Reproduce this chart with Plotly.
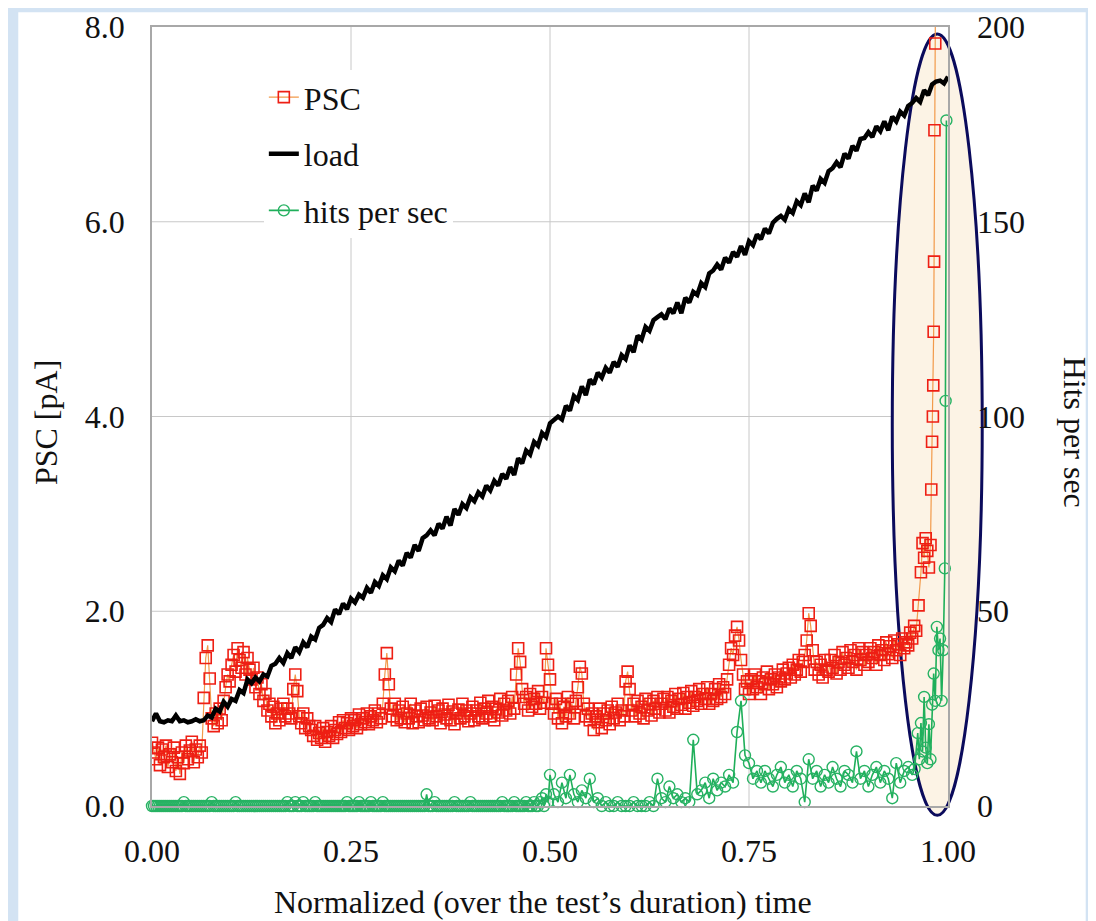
import plotly.graph_objects as go

# --- PSC [pA] vs normalized time (left axis) ---
psc_t = [
    0.0000, 0.0025, 0.0050, 0.0075, 0.0100, 0.0125, 0.0150, 0.0175, 0.0200, 0.0225,
    0.0250, 0.0275, 0.0300, 0.0325, 0.0350, 0.0375, 0.0400, 0.0425, 0.0450, 0.0475,
    0.0500, 0.0525, 0.0550, 0.0575, 0.0600, 0.0625, 0.0650, 0.0675, 0.0700, 0.0725,
    0.0750, 0.0775, 0.0800, 0.0825, 0.0850, 0.0875, 0.0900, 0.0925, 0.0950, 0.0975,
    0.1000, 0.1025, 0.1050, 0.1075, 0.1100, 0.1125, 0.1150, 0.1175, 0.1200, 0.1225,
    0.1250, 0.1275, 0.1300, 0.1325, 0.1350, 0.1375, 0.1400, 0.1425, 0.1450, 0.1475,
    0.1500, 0.1525, 0.1550, 0.1575, 0.1600, 0.1625, 0.1650, 0.1675, 0.1700, 0.1725,
    0.1750, 0.1775, 0.1800, 0.1825, 0.1850, 0.1875, 0.1900, 0.1925, 0.1950, 0.1975,
    0.2000, 0.2025, 0.2050, 0.2075, 0.2100, 0.2125, 0.2150, 0.2175, 0.2200, 0.2225,
    0.2250, 0.2275, 0.2300, 0.2325, 0.2350, 0.2375, 0.2400, 0.2425, 0.2450, 0.2475,
    0.2500, 0.2525, 0.2550, 0.2575, 0.2600, 0.2625, 0.2650, 0.2675, 0.2700, 0.2725,
    0.2750, 0.2775, 0.2800, 0.2825, 0.2850, 0.2875, 0.2900, 0.2925, 0.2950, 0.2975,
    0.3000, 0.3025, 0.3050, 0.3075, 0.3100, 0.3125, 0.3150, 0.3175, 0.3200, 0.3225,
    0.3250, 0.3275, 0.3300, 0.3325, 0.3350, 0.3375, 0.3400, 0.3425, 0.3450, 0.3475,
    0.3500, 0.3525, 0.3550, 0.3575, 0.3600, 0.3625, 0.3650, 0.3675, 0.3700, 0.3725,
    0.3750, 0.3775, 0.3800, 0.3825, 0.3850, 0.3875, 0.3900, 0.3925, 0.3950, 0.3975,
    0.4000, 0.4025, 0.4050, 0.4075, 0.4100, 0.4125, 0.4150, 0.4175, 0.4200, 0.4225,
    0.4250, 0.4275, 0.4300, 0.4325, 0.4350, 0.4375, 0.4400, 0.4425, 0.4450, 0.4475,
    0.4500, 0.4525, 0.4550, 0.4575, 0.4600, 0.4625, 0.4650, 0.4675, 0.4700, 0.4725,
    0.4750, 0.4775, 0.4800, 0.4825, 0.4850, 0.4875, 0.4900, 0.4925, 0.4950, 0.4975,
    0.5000, 0.5025, 0.5050, 0.5075, 0.5100, 0.5125, 0.5150, 0.5175, 0.5200, 0.5225,
    0.5250, 0.5275, 0.5300, 0.5325, 0.5350, 0.5375, 0.5400, 0.5425, 0.5450, 0.5475,
    0.5500, 0.5525, 0.5550, 0.5575, 0.5600, 0.5625, 0.5650, 0.5675, 0.5700, 0.5725,
    0.5750, 0.5775, 0.5800, 0.5825, 0.5850, 0.5875, 0.5900, 0.5925, 0.5950, 0.5975,
    0.6000, 0.6025, 0.6050, 0.6075, 0.6100, 0.6125, 0.6150, 0.6175, 0.6200, 0.6225,
    0.6250, 0.6275, 0.6300, 0.6325, 0.6350, 0.6375, 0.6400, 0.6425, 0.6450, 0.6475,
    0.6500, 0.6525, 0.6550, 0.6575, 0.6600, 0.6625, 0.6650, 0.6675, 0.6700, 0.6725,
    0.6750, 0.6775, 0.6800, 0.6825, 0.6850, 0.6875, 0.6900, 0.6925, 0.6950, 0.6975,
    0.7000, 0.7025, 0.7050, 0.7075, 0.7100, 0.7125, 0.7150, 0.7175, 0.7200, 0.7225,
    0.7250, 0.7275, 0.7300, 0.7325, 0.7350, 0.7375, 0.7400, 0.7425, 0.7450, 0.7475,
    0.7500, 0.7525, 0.7550, 0.7575, 0.7600, 0.7625, 0.7650, 0.7675, 0.7700, 0.7725,
    0.7750, 0.7775, 0.7800, 0.7825, 0.7850, 0.7875, 0.7900, 0.7925, 0.7950, 0.7975,
    0.8000, 0.8025, 0.8050, 0.8075, 0.8100, 0.8125, 0.8150, 0.8175, 0.8200, 0.8225,
    0.8250, 0.8275, 0.8300, 0.8325, 0.8350, 0.8375, 0.8400, 0.8425, 0.8450, 0.8475,
    0.8500, 0.8525, 0.8550, 0.8575, 0.8600, 0.8625, 0.8650, 0.8675, 0.8700, 0.8725,
    0.8750, 0.8775, 0.8800, 0.8825, 0.8850, 0.8875, 0.8900, 0.8925, 0.8950, 0.8975,
    0.9000, 0.9025, 0.9050, 0.9075, 0.9100, 0.9125, 0.9150, 0.9175, 0.9200, 0.9225,
    0.9250, 0.9275, 0.9300, 0.9325, 0.9350, 0.9375, 0.9400, 0.9425, 0.9450, 0.9475,
    0.9500, 0.9525, 0.9550, 0.9575, 0.9600, 0.9630, 0.9660, 0.9680, 0.9700, 0.9720,
    0.9740, 0.9760, 0.9780, 0.9790, 0.9800, 0.9810, 0.9815, 0.9820, 0.9825, 0.9830,
    0.9840, 0.9850,
]
psc_pa = [
    0.65, 0.55, 0.48, 0.60, 0.42, 0.58, 0.50, 0.62, 0.40, 0.53,
    0.45, 0.60, 0.36, 0.50, 0.33, 0.55, 0.44, 0.62, 0.48, 0.57,
    0.66, 0.45, 0.58, 0.50, 0.62, 0.55, 1.11, 1.52, 1.65, 1.31,
    0.90, 0.82, 0.95, 0.85, 1.00, 0.88, 1.08, 1.22, 1.35, 1.28,
    1.45, 1.55, 1.38, 1.62, 1.50, 1.42, 1.58, 1.35, 1.52, 1.40,
    1.30, 1.42, 1.22, 1.32, 1.15, 1.25, 1.08, 1.15, 0.98, 1.05,
    0.92, 1.02, 0.85, 0.95, 0.88, 1.00, 1.05, 0.92, 1.00, 0.95,
    0.90, 1.20, 1.35, 1.18, 0.92, 0.85, 0.95, 0.80, 0.90, 0.82,
    0.78, 0.72, 0.82, 0.68, 0.75, 0.70, 0.80, 0.66, 0.76, 0.72,
    0.82, 0.70, 0.78, 0.74, 0.86, 0.76, 0.88, 0.80, 0.85, 0.78,
    0.90, 0.82, 0.88, 0.80, 0.94, 0.84, 0.90, 0.86, 0.95, 0.84,
    0.92, 0.88, 0.98, 0.86, 0.95, 0.90, 1.05, 1.35, 1.57, 1.25,
    1.00, 0.92, 1.05, 0.88, 0.98, 0.90, 1.02, 0.86, 0.95, 0.90,
    1.05, 0.85, 0.98, 0.92, 0.86, 1.00, 0.93, 0.88, 1.02, 0.90,
    0.96, 0.88, 1.03, 0.92, 0.98, 0.85, 1.00, 0.94, 0.90, 1.04,
    0.88, 0.97, 0.84, 0.95, 0.99, 0.90, 1.05, 0.92, 0.98, 0.87,
    0.95, 1.02, 0.88, 0.98, 0.92, 1.06, 0.90, 1.00, 0.95, 1.08,
    0.92, 1.02, 0.88, 1.00, 0.96, 1.10, 0.93, 1.05, 0.98, 1.08,
    0.95, 1.12, 1.00, 1.35, 1.62, 1.48, 1.20, 1.05, 1.12, 0.98,
    1.15, 1.02, 1.10, 1.05, 1.18, 1.00, 1.12, 1.06, 1.62, 1.45,
    1.30, 1.05, 0.95, 1.10, 0.90, 1.05, 0.85, 1.02, 0.92, 1.12,
    0.95, 1.05, 0.90, 1.08, 1.22, 1.43, 1.36, 1.05, 0.92, 1.00,
    0.88, 0.95, 0.78, 0.92, 0.86, 1.00, 0.80, 0.95, 0.88, 0.98,
    0.84, 1.02, 0.90, 0.96, 1.05, 0.88, 0.98, 0.92, 1.28, 1.38,
    1.20, 0.98, 1.05, 0.92, 1.08, 0.95, 1.02, 0.90, 1.10, 0.98,
    1.05, 0.93, 1.08, 1.00, 1.12, 0.96, 1.05, 1.10, 0.98, 1.12,
    0.96, 1.08, 1.02, 1.15, 1.00, 1.10, 1.04, 1.16, 1.00, 1.12,
    1.06, 1.18, 1.03, 1.12, 1.08, 1.20, 1.05, 1.15, 1.10, 1.22,
    1.05, 1.15, 1.08, 1.20, 1.10, 1.25, 1.12, 1.22, 1.15, 1.30,
    1.45, 1.62, 1.55, 1.75, 1.84, 1.70, 1.50, 1.35, 1.20, 1.28,
    1.15, 1.30, 1.20, 1.35, 1.22, 1.28, 1.15, 1.32, 1.25, 1.38,
    1.20, 1.30, 1.25, 1.35, 1.22, 1.32, 1.28, 1.40, 1.30, 1.36,
    1.42, 1.32, 1.45, 1.35, 1.40, 1.50, 1.38, 1.48, 1.55, 1.70,
    1.98, 1.85, 1.60, 1.40, 1.48, 1.35, 1.45, 1.32, 1.50, 1.40,
    1.38, 1.50, 1.42, 1.55, 1.36, 1.48, 1.40, 1.58, 1.45, 1.52,
    1.42, 1.60, 1.48, 1.55, 1.40, 1.62, 1.50, 1.58, 1.45, 1.55,
    1.48, 1.62, 1.52, 1.58, 1.45, 1.65, 1.55, 1.60, 1.50, 1.68,
    1.56, 1.64, 1.52, 1.70, 1.60, 1.66, 1.55, 1.72, 1.62, 1.68,
    1.65, 1.78, 1.72, 1.85, 1.80, 2.06, 2.40, 2.70, 2.55, 2.75,
    2.62, 2.45, 2.68, 3.25, 3.74, 4.00, 4.32, 4.87, 5.59, 6.94,
    7.83, 9.50,
]

# --- load (left axis) ---
load_t = [
    0.000, 0.005, 0.010, 0.015, 0.020, 0.025, 0.030, 0.035, 0.040, 0.045,
    0.050, 0.055, 0.060, 0.065, 0.070, 0.075, 0.080, 0.085, 0.090, 0.095,
    0.100, 0.105, 0.110, 0.115, 0.120, 0.125, 0.130, 0.135, 0.140, 0.145,
    0.150, 0.155, 0.160, 0.165, 0.170, 0.175, 0.180, 0.185, 0.190, 0.195,
    0.200, 0.205, 0.210, 0.215, 0.220, 0.225, 0.230, 0.235, 0.240, 0.245,
    0.250, 0.255, 0.260, 0.265, 0.270, 0.275, 0.280, 0.285, 0.290, 0.295,
    0.300, 0.305, 0.310, 0.315, 0.320, 0.325, 0.330, 0.335, 0.340, 0.345,
    0.350, 0.355, 0.360, 0.365, 0.370, 0.375, 0.380, 0.385, 0.390, 0.395,
    0.400, 0.405, 0.410, 0.415, 0.420, 0.425, 0.430, 0.435, 0.440, 0.445,
    0.450, 0.455, 0.460, 0.465, 0.470, 0.475, 0.480, 0.485, 0.490, 0.495,
    0.500, 0.505, 0.510, 0.515, 0.520, 0.525, 0.530, 0.535, 0.540, 0.545,
    0.550, 0.555, 0.560, 0.565, 0.570, 0.575, 0.580, 0.585, 0.590, 0.595,
    0.600, 0.605, 0.610, 0.615, 0.620, 0.625, 0.630, 0.635, 0.640, 0.645,
    0.650, 0.655, 0.660, 0.665, 0.670, 0.675, 0.680, 0.685, 0.690, 0.695,
    0.700, 0.705, 0.710, 0.715, 0.720, 0.725, 0.730, 0.735, 0.740, 0.745,
    0.750, 0.755, 0.760, 0.765, 0.770, 0.775, 0.780, 0.785, 0.790, 0.795,
    0.800, 0.805, 0.810, 0.815, 0.820, 0.825, 0.830, 0.835, 0.840, 0.845,
    0.850, 0.855, 0.860, 0.865, 0.870, 0.875, 0.880, 0.885, 0.890, 0.895,
    0.900, 0.905, 0.910, 0.915, 0.920, 0.925, 0.930, 0.935, 0.940, 0.945,
    0.950, 0.955, 0.960, 0.965, 0.970, 0.975, 0.980, 0.985, 0.990, 0.995,
    1.000,
]
load_v = [
    0.87, 0.95, 0.87, 0.86, 0.88, 0.87, 0.93, 0.87, 0.88, 0.86,
    0.87, 0.89, 0.87, 0.88, 0.93, 0.91, 1.00, 0.97, 1.07, 1.02,
    1.10, 1.08, 1.19, 1.16, 1.30, 1.26, 1.32, 1.28, 1.35, 1.33,
    1.44, 1.46, 1.52, 1.47, 1.57, 1.52, 1.63, 1.58, 1.68, 1.63,
    1.74, 1.71, 1.83, 1.86, 1.93, 1.89, 2.02, 1.97, 2.08, 2.02,
    2.13, 2.09, 2.17, 2.14, 2.24, 2.19, 2.30, 2.26, 2.37, 2.33,
    2.45, 2.41, 2.52, 2.47, 2.60, 2.55, 2.68, 2.62, 2.75, 2.78,
    2.83, 2.78, 2.90, 2.85, 2.97, 2.88, 3.05, 2.99, 3.10, 3.06,
    3.17, 3.13, 3.22, 3.18, 3.29, 3.24, 3.34, 3.29, 3.41, 3.36,
    3.48, 3.40, 3.57, 3.52, 3.65, 3.61, 3.74, 3.70, 3.83, 3.79,
    3.93, 3.96, 4.00, 3.97, 4.11, 4.06, 4.21, 4.17, 4.31, 4.22,
    4.38, 4.33, 4.45, 4.40, 4.50, 4.45, 4.56, 4.51, 4.63, 4.59,
    4.73, 4.66, 4.83, 4.79, 4.92, 4.88, 4.99, 5.02, 5.05, 5.00,
    5.11, 5.06, 5.17, 5.06, 5.22, 5.17, 5.28, 5.25, 5.37, 5.33,
    5.47, 5.50, 5.56, 5.51, 5.63, 5.58, 5.69, 5.64, 5.75, 5.66,
    5.80, 5.76, 5.87, 5.82, 5.93, 5.88, 5.99, 6.03, 6.06, 6.02,
    6.13, 6.09, 6.21, 6.17, 6.29, 6.20, 6.37, 6.32, 6.44, 6.40,
    6.52, 6.55, 6.61, 6.56, 6.70, 6.65, 6.78, 6.73, 6.85, 6.86,
    6.92, 6.87, 6.98, 6.93, 7.03, 6.94, 7.08, 7.03, 7.13, 7.09,
    7.19, 7.22, 7.27, 7.23, 7.35, 7.30, 7.41, 7.44, 7.45, 7.42,
    7.49,
]

# --- hits per sec (right axis) ---
hits_t = [
    0.0000, 0.0025, 0.0050, 0.0075, 0.0100, 0.0125, 0.0150, 0.0175, 0.0200, 0.0225,
    0.0250, 0.0275, 0.0300, 0.0325, 0.0350, 0.0375, 0.0400, 0.0425, 0.0450, 0.0475,
    0.0500, 0.0525, 0.0550, 0.0575, 0.0600, 0.0625, 0.0650, 0.0675, 0.0700, 0.0725,
    0.0750, 0.0775, 0.0800, 0.0825, 0.0850, 0.0875, 0.0900, 0.0925, 0.0950, 0.0975,
    0.1000, 0.1025, 0.1050, 0.1075, 0.1100, 0.1125, 0.1150, 0.1175, 0.1200, 0.1225,
    0.1250, 0.1275, 0.1300, 0.1325, 0.1350, 0.1375, 0.1400, 0.1425, 0.1450, 0.1475,
    0.1500, 0.1525, 0.1550, 0.1575, 0.1600, 0.1625, 0.1650, 0.1675, 0.1700, 0.1725,
    0.1750, 0.1775, 0.1800, 0.1825, 0.1850, 0.1875, 0.1900, 0.1925, 0.1950, 0.1975,
    0.2000, 0.2025, 0.2050, 0.2075, 0.2100, 0.2125, 0.2150, 0.2175, 0.2200, 0.2225,
    0.2250, 0.2275, 0.2300, 0.2325, 0.2350, 0.2375, 0.2400, 0.2425, 0.2450, 0.2475,
    0.2500, 0.2525, 0.2550, 0.2575, 0.2600, 0.2625, 0.2650, 0.2675, 0.2700, 0.2725,
    0.2750, 0.2775, 0.2800, 0.2825, 0.2850, 0.2875, 0.2900, 0.2925, 0.2950, 0.2975,
    0.3000, 0.3025, 0.3050, 0.3075, 0.3100, 0.3125, 0.3150, 0.3175, 0.3200, 0.3225,
    0.3250, 0.3275, 0.3300, 0.3325, 0.3350, 0.3375, 0.3400, 0.3425, 0.3450, 0.3475,
    0.3500, 0.3525, 0.3550, 0.3575, 0.3600, 0.3625, 0.3650, 0.3675, 0.3700, 0.3725,
    0.3750, 0.3775, 0.3800, 0.3825, 0.3850, 0.3875, 0.3900, 0.3925, 0.3950, 0.3975,
    0.4000, 0.4025, 0.4050, 0.4075, 0.4100, 0.4125, 0.4150, 0.4175, 0.4200, 0.4225,
    0.4250, 0.4275, 0.4300, 0.4325, 0.4350, 0.4375, 0.4400, 0.4425, 0.4450, 0.4475,
    0.4500, 0.4525, 0.4550, 0.4575, 0.4600, 0.4625, 0.4650, 0.4675, 0.4700, 0.4725,
    0.4750, 0.4775, 0.4800, 0.4825, 0.4850, 0.4875, 0.4900, 0.4925, 0.4950, 0.4975,
    0.500, 0.505, 0.510, 0.515, 0.520, 0.525, 0.530, 0.535, 0.540, 0.545,
    0.550, 0.555, 0.560, 0.565, 0.570, 0.575, 0.580, 0.585, 0.590, 0.595,
    0.600, 0.605, 0.610, 0.615, 0.620, 0.625, 0.630, 0.635, 0.640, 0.645,
    0.650, 0.655, 0.660, 0.665, 0.670, 0.675, 0.680, 0.685, 0.690, 0.695,
    0.700, 0.705, 0.710, 0.715, 0.720, 0.725, 0.730, 0.735, 0.740, 0.745,
    0.750, 0.755, 0.760, 0.765, 0.770, 0.775, 0.780, 0.785, 0.790, 0.795,
    0.800, 0.805, 0.810, 0.815, 0.820, 0.825, 0.830, 0.835, 0.840, 0.845,
    0.850, 0.855, 0.860, 0.865, 0.870, 0.875, 0.880, 0.885, 0.890, 0.895,
    0.900, 0.905, 0.910, 0.915, 0.920, 0.925, 0.930, 0.935, 0.940, 0.945,
    0.950, 0.955, 0.958, 0.962, 0.964, 0.966, 0.968, 0.970, 0.972, 0.974,
    0.976, 0.978, 0.980, 0.982, 0.984, 0.986, 0.988, 0.990, 0.992, 0.994,
    0.996, 0.997, 0.998,
]
hits_n = [
    0, 0, 0, 0, 0, 0, 0, 0, 0, 0, 0, 0, 0, 0, 0, 0, 1, 0, 0, 0,
    0, 0, 0, 0, 0, 0, 0, 0, 0, 0, 1, 0, 0, 0, 0, 0, 0, 0, 0, 0,
    0, 0, 1, 0, 0, 0, 0, 0, 0, 0, 0, 0, 0, 0, 0, 0, 0, 0, 0, 0,
    0, 0, 0, 0, 0, 0, 0, 0, 1, 0, 0, 0, 1, 0, 0, 0, 1, 0, 0, 0,
    0, 0, 1, 0, 0, 0, 0, 0, 0, 0, 0, 0, 0, 0, 0, 0, 0, 0, 1, 0,
    0, 0, 0, 0, 1, 0, 0, 0, 0, 0, 1, 0, 0, 0, 0, 0, 1, 0, 0, 0,
    0, 0, 0, 0, 0, 0, 0, 0, 0, 0, 0, 0, 0, 0, 0, 0, 0, 0, 3, 0,
    0, 0, 1, 0, 0, 0, 0, 0, 0, 0, 0, 0, 1, 0, 0, 0, 0, 0, 0, 0,
    1, 0, 0, 0, 0, 0, 0, 0, 0, 0, 0, 0, 0, 0, 0, 0, 1, 0, 0, 0,
    0, 0, 1, 0, 0, 0, 0, 0, 1, 0, 0, 0, 1, 0, 0, 1, 2, 0, 3, 1,
    8, 3, 1, 6, 2, 8, 3, 1, 4, 2, 7, 1, 2, 0, 1, 0, 0, 1, 0, 0,
    0, 1, 0, 0, 0, 1, 0, 7, 2, 1, 5, 2, 3, 1, 2, 1, 17, 3, 4, 6,
    2, 7, 4, 6, 5, 8, 6, 19, 27, 13, 11, 7, 9, 6, 9, 7, 5, 8, 10, 6,
    8, 5, 9, 7, 1, 12, 7, 9, 5, 8, 6, 10, 7, 5, 9, 8, 6, 14, 7, 9,
    5, 8, 10, 6, 9, 7, 2, 11, 6, 9, 10, 8, 9.5, 18.7, 12, 21.3, 14, 28, 15, 11,
    21, 12, 26, 34, 27, 46, 40, 43, 27, 40, 61, 104, 176,
]

# axis ticks
x_ticks = [0, 0.25, 0.5, 0.75, 1]
x_ticktext = ["0.00", "0.25", "0.50", "0.75", "1.00"]
y_ticks = [0, 2, 4, 6, 8]
y_ticktext = ["0.0", "2.0", "4.0", "6.0", "8.0"]
y2_ticks = [0, 50, 100, 150, 200]

serif = "Liberation Serif, Times New Roman, serif"
grid_col = "#C8C8C8"

fig = go.Figure()

fig.add_trace(go.Scatter(
    x=hits_t, y=hits_n, yaxis="y2", name="hits per sec",
    mode="lines+markers", legendgroup="c", legendrank=3,
    line=dict(color="#1FAF5A", width=1.6),
    marker=dict(symbol="circle-open", size=11, color="#27B263",
                line=dict(color="#27B263", width=1.4)),
    cliponaxis=False,
))
fig.add_trace(go.Scatter(
    x=psc_t, y=psc_pa, name="PSC",
    mode="lines+markers", legendgroup="a", legendrank=1,
    line=dict(color="#F29A4A", width=1.2),
    marker=dict(symbol="square-open", size=11, color="#EE1F14",
                line=dict(color="#EE1F14", width=1.6)),
))
fig.add_trace(go.Scatter(
    x=load_t, y=load_v, name="load",
    mode="lines", legendgroup="b", legendrank=2,
    line=dict(color="black", width=4.5),
))

# page background: blue border around a white sheet
fig.add_shape(type="rect", xref="paper", yref="paper",
              x0=-0.168, x1=1.173, y0=-0.15, y1=1.019,
              fillcolor="white", line=dict(width=0), layer="below")
# gridlines drawn as shapes so the highlight can sit on top of them
for yv in y_ticks[1:-1]:
    fig.add_shape(type="line", xref="paper", yref="y", x0=0, x1=1, y0=yv, y1=yv,
                  line=dict(color=grid_col, width=1), layer="below")
for xv in x_ticks[1:-1]:
    fig.add_shape(type="line", xref="x", yref="paper", x0=xv, x1=xv, y0=0, y1=1,
                  line=dict(color=grid_col, width=1), layer="below")
# highlight of the final rupture phase
fig.add_shape(type="circle", xref="paper", yref="paper",
              x0=0.930, x1=1.043, y0=-0.012, y1=0.991,
              fillcolor="#FCF3E5", line=dict(color="#0B0B5C", width=3),
              layer="below")

fig.add_annotation(text="Normalized (over the test\u2019s duration) time",
                   xref="paper", yref="paper", x=0.491, y=-0.123,
                   xanchor="center", yanchor="middle", showarrow=False,
                   font=dict(family=serif, size=32, color="#111"))
fig.add_annotation(text="PSC [pA]", xref="paper", yref="paper",
                   x=-0.134, y=0.492, textangle=-90, showarrow=False,
                   xanchor="center", yanchor="middle",
                   font=dict(family=serif, size=32, color="#111"))
fig.add_annotation(text="Hits per sec", xref="paper", yref="paper",
                   x=1.16, y=0.48, textangle=90, showarrow=False,
                   xanchor="center", yanchor="middle",
                   font=dict(family=serif, size=32, color="#111"))

fig.update_layout(
    width=1088, height=913,
    margin=dict(l=144, r=148, t=19, b=115),
    paper_bgcolor="#D3E3F3",
    plot_bgcolor="white",
    font=dict(family=serif, size=32, color="#111"),
    legend=dict(x=0.1405, y=0.945, xanchor="left", yanchor="top",
                bgcolor="white", borderwidth=0, tracegroupgap=12,
                font=dict(family=serif, size=32, color="#111")),
    xaxis=dict(range=[0, 1], tickvals=x_ticks, ticktext=x_ticktext,
               showgrid=False, automargin=False,
               showline=True, mirror=True, linecolor="#A8A8A8", linewidth=1.5,
               zeroline=False, ticks="", ticklabelstandoff=16),
    yaxis=dict(range=[0, 8], tickvals=y_ticks, ticktext=y_ticktext,
               showgrid=False, automargin=False,
               showline=True, mirror=True, linecolor="#A8A8A8", linewidth=1.5,
               zeroline=False, ticks="", ticklabelstandoff=19),
    yaxis2=dict(range=[0, 200], overlaying="y", side="right",
                tickvals=y2_ticks, automargin=False,
                showgrid=False, zeroline=False, showline=False,
                ticks="", ticklabelstandoff=28),
)

fig.write_html("out.html")
